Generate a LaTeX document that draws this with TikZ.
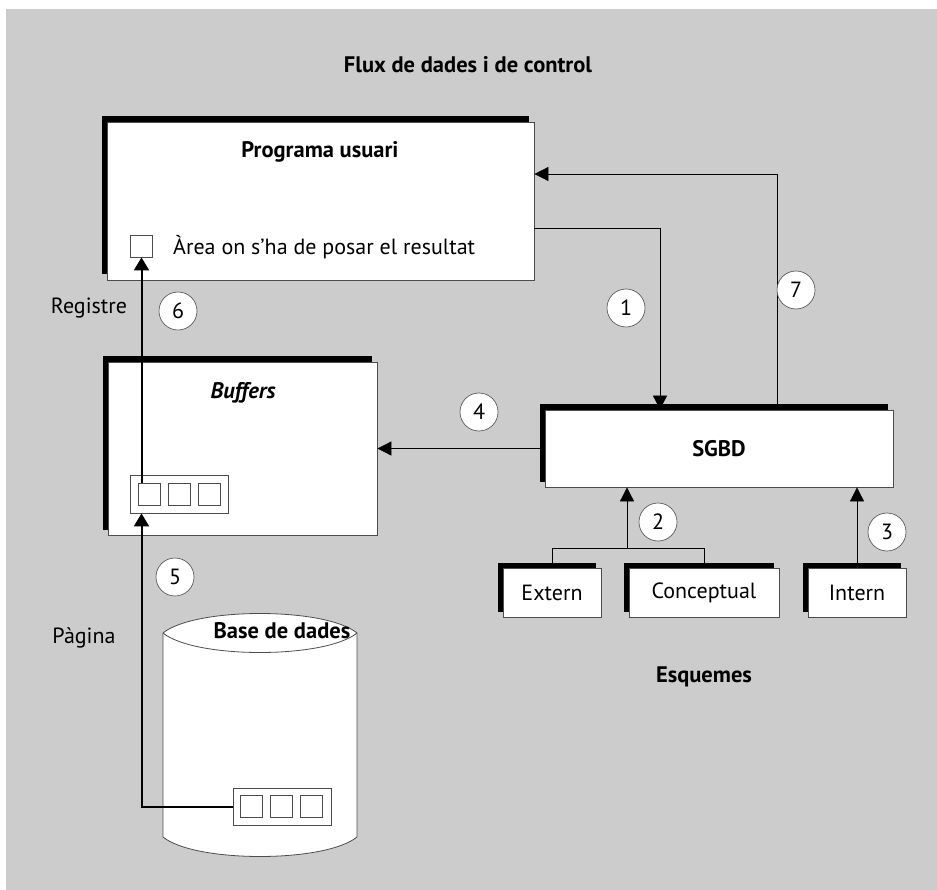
\documentclass[tikz,border=0pt]{standalone}
\usepackage{fontspec}
\setmainfont{PT Sans}
\usetikzlibrary{arrows.meta,shadows}
\definecolor{bg}{gray}{0.8}
\definecolor{edge}{gray}{0.3}
\begin{document}
\begin{tikzpicture}[x=1pt,y=-1pt,
  every node/.style={font=\fontsize{22}{26}\selectfont, inner sep=0pt},
  box/.style={draw=edge, line width=0.8pt, fill=white, general shadow={fill=black, shadow xshift=-5.5pt, shadow yshift=5.5pt}},
  sq/.style={draw=edge, line width=0.8pt, fill=white, minimum size=22pt},
  grp/.style={draw=edge, line width=0.8pt, fill=white, minimum width=98pt, minimum height=38pt},
  thinarrow/.style={line width=0.8pt, -{Triangle[length=14pt,width=14pt]}},
  thickarrow/.style={line width=2pt, -{Triangle[length=13pt,width=15pt]}},
  num/.style={circle, draw=edge, fill=white, line width=0.6pt, minimum size=38pt},
  bold/.style={font=\fontsize{22.5}{26}\selectfont\bfseries}]
\fill[bg] (6,9) rectangle (937,890);
\useasboundingbox (0,0) rectangle (937,890);

\node[bold] (title) at (468,65) {Flux de dades i de control};

% Programa usuari
\node[box, minimum width=427pt, minimum height=158pt] (prog) at (320.5,201) {};
\node[bold] (progt) at (320,152) {Programa usuari};
\node[sq] (area) at (141.5,246) {};
\node[anchor=west] (areat) at (173,247) {Àrea on s’ha de posar el resultat};

% Buffers
\node[box, minimum width=269pt, minimum height=173pt] (buf) at (242.5,448.5) {};
\node[font=\fontsize{22.5}{26}\selectfont\bfseries\itshape] (buft) at (243,393) {Buffers};
\node[grp] (bgrp) at (179,494) {};
\node[sq] (bs1) at (149,494) {};
\node[sq] (bs2) at (179,494) {};
\node[sq] (bs3) at (209.5,494) {};

% SGBD
\node[box, minimum width=348pt, minimum height=77pt, bold] (sgbd) at (719,448.5) {SGBD};

% Esquemes
\node[box, minimum width=98pt, minimum height=49pt] (ext) at (552,592.5) {Extern};
\node[box, minimum width=150pt, minimum height=49pt] (conc) at (704,592.5) {Conceptual};
\node[box, minimum width=98pt, minimum height=49pt] (int) at (857,592.5) {Intern};
\node[bold] (esq) at (704,677) {Esquemes};

% Base de dades
\path[fill=white, draw=edge, line width=0.8pt] (163,633) .. controls (195,607) and (325,607) .. (357,633) -- (357,837) .. controls (325,863) and (195,863) .. (163,837) -- cycle;
\draw[edge, line width=0.8pt] (163,633) .. controls (195,659) and (325,659) .. (357,633);
\node[bold] (dbt) at (282,631) {Base de dades};
\node[grp, minimum height=37pt] (dbg) at (282,806.5) {};
\node[sq] (ds1) at (251.5,806) {};
\node[sq] (ds2) at (281.5,806) {};
\node[sq] (ds3) at (311.5,806) {};

% labels
\node (reg) at (89,308) {Registre};
\node (pag) at (84,638) {Pàgina};

% connectors
\coordinate (c7) at (777,174);
\draw[thinarrow] (sgbd.north -| c7) -- (c7) -- (prog.east |- c7);
\coordinate (c1) at (660,228);
\draw[thinarrow] (prog.east |- c1) -- (c1) -- (sgbd.north -| c1);
\draw[thinarrow] (sgbd.west) -- (buf.east |- sgbd.west);
\coordinate (c2) at (627,548);
\draw[line width=0.8pt] (ext.north) -- (ext.north |- c2) -- (conc.north |- c2) -- (conc.north);
\draw[thinarrow] (c2) -- (sgbd.south -| c2);
\draw[thinarrow] (int.north) -- (sgbd.south -| int.north);
\draw[thickarrow] (bs1.north -| area.south) -- (area.south);
\draw[thickarrow] (dbg.west) -| (bgrp.south -| area.south);

% numbers
\node[num] (n1) at (626,308) {1};
\node[num] (n2) at (658,522) {2};
\node[num] (n3) at (887,532) {3};
\node[num] (n4) at (479,412) {4};
\node[num] (n5) at (175,577) {5};
\node[num] (n6) at (178,311) {6};
\node[num] (n7) at (796,290) {7};
\end{tikzpicture}
\end{document}
